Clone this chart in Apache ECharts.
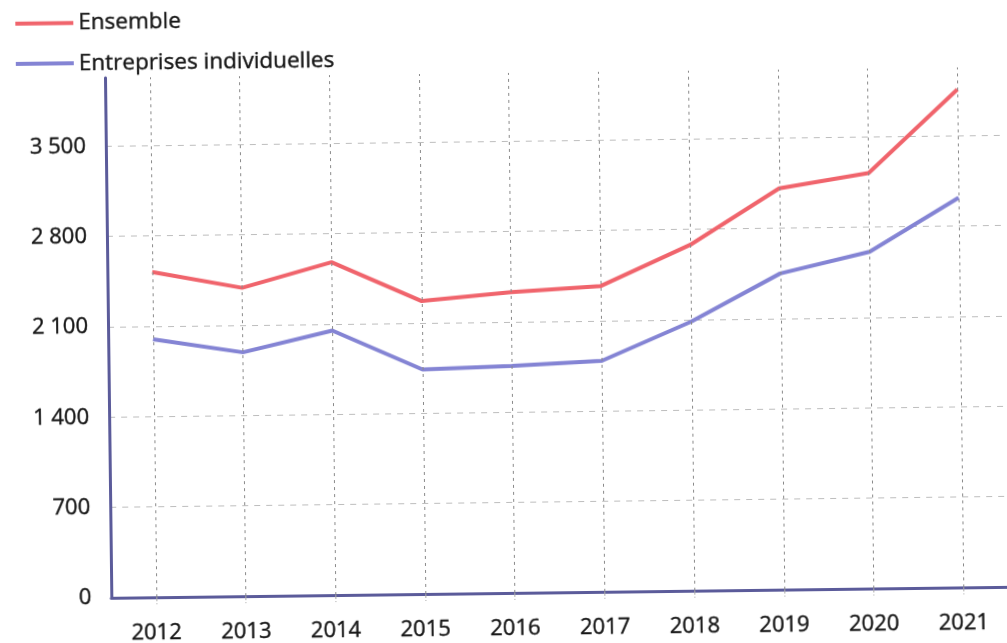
<!DOCTYPE html>
<html>
<head>
<meta charset="utf-8">
<script src="https://cdn.jsdelivr.net/npm/echarts@6/dist/echarts.min.js"></script>
<style>
  html, body { margin: 0; padding: 0; background: #fff; }
  #chart { width: 1007px; height: 643px; transform: rotate(-0.7deg); transform-origin: 50% 50%; }
</style>
</head>
<body>
<div id="chart"></div>
<script>
// Years on the horizontal axis
const years = ['2012', '2013', '2014', '2015', '2016', '2017', '2018', '2019', '2020', '2021'];
// All businesses
const ensemble = [2520, 2390, 2580, 2270, 2330, 2370, 2680, 3110, 3220, 3860];
// Sole proprietorships
const entreprisesIndividuelles = [2000, 1890, 2050, 1740, 1760, 1790, 2085, 2450, 2610, 3020];
// Value axis tick spacing
const yInterval = 700;
const yMax = 4030;

const axisColor = '#5b5b9a';
const textColor = '#161616';
const fontFamily = '"Open Sans", "Noto Sans", sans-serif';
// slightly heavier strokes on the text
const textWeight = { textBorderColor: textColor, textBorderWidth: 0.4 };

const chart = echarts.init(document.getElementById('chart'));

chart.setOption({
  animation: false,
  textStyle: { fontFamily: fontFamily },
  legend: {
    orient: 'vertical',
    left: 14,
    top: 1,
    itemGap: 17,
    itemWidth: 58,
    itemHeight: 4,
    icon: 'rect',
    textStyle: Object.assign({ fontSize: 22.5, color: textColor, fontFamily: fontFamily }, textWeight),
    data: ['Ensemble', 'Entreprises individuelles']
  },
  grid: { left: 108, right: 2, top: 73, bottom: 50, containLabel: false },
  xAxis: {
    type: 'category',
    data: years,
    boundaryGap: true,
    axisLine: { lineStyle: { color: axisColor, width: 3 } },
    axisTick: { show: true, alignWithLabel: true, length: 7, lineStyle: { color: '#aaa', type: 'dashed' } },
    axisLabel: Object.assign({ color: textColor, fontSize: 22, margin: 25, fontFamily: fontFamily }, textWeight),
    splitLine: { show: false }
  },
  yAxis: {
    type: 'value',
    min: 0,
    max: yMax,
    interval: yInterval,
    axisLine: { show: true, lineStyle: { color: axisColor, width: 3 } },
    axisTick: { show: false },
    axisLabel: Object.assign({
      color: textColor,
      fontSize: 22,
      margin: 20,
      fontFamily: fontFamily,
      showMaxLabel: false,
      formatter: function (v) {
        return String(v).replace(/\B(?=(\d{3})+(?!\d))/g, ' ');
      }
    }, textWeight),
    splitLine: { show: true, showMaxLine: false, lineStyle: { color: '#bdbdbd', type: [6, 6], width: 1 } }
  },
  series: [
    {
      name: 'Ensemble',
      type: 'line',
      data: ensemble,
      symbol: 'none',
      color: '#f0646c',
      lineStyle: { width: 4, color: '#f0646c' },
      z: 3,
      markLine: {
        silent: true,
        symbol: 'none',
        label: { show: false },
        lineStyle: { color: '#8a8a8a', type: [3, 4], width: 1 },
        data: years.map(function (y) { return { xAxis: y }; })
      }
    },
    {
      name: 'Entreprises individuelles',
      type: 'line',
      data: entreprisesIndividuelles,
      symbol: 'none',
      color: '#8484d4',
      lineStyle: { width: 4, color: '#8484d4' },
      z: 3
    }
  ]
});
</script>
</body>
</html>
